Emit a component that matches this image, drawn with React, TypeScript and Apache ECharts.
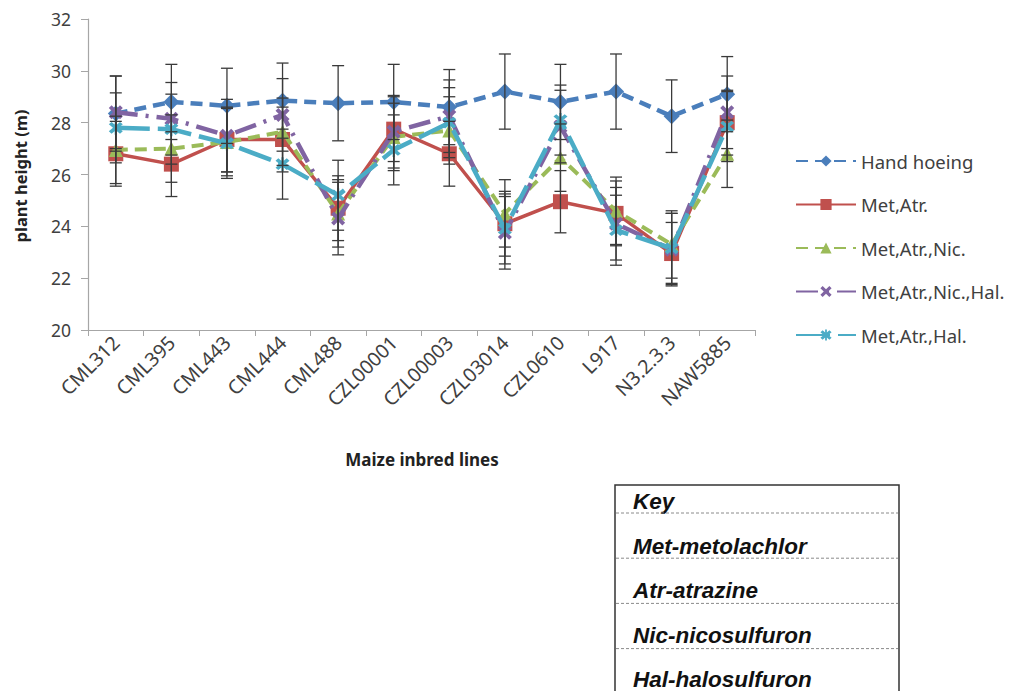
import React, { useEffect, useRef } from "react";
import * as echarts from "echarts";

// Maize inbred lines on the x axis
const categories = [
  "CML312", "CML395", "CML443", "CML444", "CML488", "CZL00001",
  "CZL00003", "CZL03014", "CZL0610", "L917", "N3.2.3.3", "NAW5885",
];

// Mean plant height per treatment
const handHoeing = [28.35, 28.8, 28.65, 28.85, 28.75, 28.8, 28.6, 29.2, 28.8, 29.2, 28.25, 29.1];
const metAtr = [26.8, 26.4, 27.35, 27.35, 24.7, 27.75, 26.8, 24.1, 24.95, 24.5, 22.95, 28.0];
const metAtrNic = [26.95, 27.0, 27.25, 27.65, 24.5, 27.45, 27.7, 24.5, 26.65, 24.6, 23.3, 26.8];
const metAtrNicHal = [28.4, 28.15, 27.5, 28.3, 24.3, 27.65, 28.25, 23.75, 27.85, 24.1, 23.1, 28.4];
const metAtrHal = [27.8, 27.75, 27.2, 26.4, 25.2, 26.95, 28.0, 23.9, 28.1, 23.85, 23.15, 27.85];

// Error bar half-widths
const handHoeingErr = [1.45, 1.45, 1.45, 1.45, 1.45, 1.45, 1.45, 1.45, 1.45, 1.45, 1.4, 1.45];
const metAtrErr = [1.25, 1.25, 1.25, 1.25, 1.25, 1.25, 1.25, 1.25, 1.2, 1.25, 1.2, 1.25];
const metAtrNicErr = [1.3, 1.3, 1.3, 1.3, 1.3, 1.3, 1.3, 1.3, 1.3, 1.3, 1.3, 1.3];
const metAtrNicHalErr = [1.4, 1.4, 1.4, 1.4, 1.4, 1.4, 1.4, 1.4, 1.4, 1.4, 1.4, 1.4];
const metAtrHalErr = [1.35, 1.35, 1.35, 1.35, 1.35, 1.35, 1.35, 1.35, 1.35, 1.35, 1.35, 1.35];

// Y axis ticks
const yMin = 20;
const yMax = 32;
const yStep = 2;

const keyRows = ["Key", "Met-metolachlor", "Atr-atrazine", "Nic-nicosulfuron", "Hal-halosulfuron"];

const FONT = "'Noto Sans', 'DejaVu Sans', sans-serif";
const KEY_FONT = "'Liberation Sans', Arial, sans-serif";

const X_SYMBOL = "path://M0,2 L2,0 L5,3 L8,0 L10,2 L7,5 L10,8 L8,10 L5,7 L2,10 L0,8 L3,5 Z";
const STAR_SYMBOL =
  "path://M0,2 L2,0 L5,3 L8,0 L10,2 L7,5 L10,8 L8,10 L5,7 L2,10 L0,8 L3,5 Z M4.2,-1 L5.8,-1 L5.8,11 L4.2,11 Z";

type SeriesDef = {
  name: string;
  values: number[];
  errors: number[];
  color: string;
  dash: any;
  width: number;
  symbol: string;
  symbolSize: number;
};

const seriesDefs: SeriesDef[] = [
  { name: "Hand hoeing", values: handHoeing, errors: handHoeingErr, color: "#4A7EBB", dash: [12, 7], width: 4.5, symbol: "diamond", symbolSize: 16 },
  { name: "Met,Atr.", values: metAtr, errors: metAtrErr, color: "#C0504D", dash: "solid", width: 3.5, symbol: "rect", symbolSize: 15 },
  { name: "Met,Atr.,Nic.", values: metAtrNic, errors: metAtrNicErr, color: "#9BBB59", dash: [12, 7], width: 4, symbol: "triangle", symbolSize: 14 },
  { name: "Met,Atr.,Nic.,Hal.", values: metAtrNicHal, errors: metAtrNicHalErr, color: "#8064A2", dash: [22, 8, 3, 8], width: 4.5, symbol: X_SYMBOL, symbolSize: 14 },
  { name: "Met,Atr.,Hal.", values: metAtrHal, errors: metAtrHalErr, color: "#4BACC6", dash: [34, 8], width: 4.5, symbol: STAR_SYMBOL, symbolSize: 14 },
];

function errorBarRenderer(params: any, api: any) {
  const i = api.value(0);
  const lo = api.coord([i, api.value(1)]);
  const hi = api.coord([i, api.value(2)]);
  const cap = 6;
  const style = { stroke: "#3A3A3A", lineWidth: 1.3 };
  return {
    type: "group",
    children: [
      { type: "line", shape: { x1: lo[0], y1: lo[1], x2: hi[0], y2: hi[1] }, style },
      { type: "line", shape: { x1: hi[0] - cap, y1: hi[1], x2: hi[0] + cap, y2: hi[1] }, style },
      { type: "line", shape: { x1: lo[0] - cap, y1: lo[1], x2: lo[0] + cap, y2: lo[1] }, style },
    ],
  };
}

export default function App() {
  const ref = useRef<HTMLDivElement>(null);

  useEffect(() => {
    if (!ref.current) return;
    const chart = echarts.init(ref.current, undefined, { renderer: "svg" });

    const lineSeries = seriesDefs.map((s, k) => ({
      name: s.name,
      type: "line",
      data: s.values,
      z: 3 + k,
      symbol: s.symbol,
      symbolSize: s.symbolSize,
      lineStyle: { color: s.color, width: s.width, type: s.dash },
      itemStyle: { color: s.color, borderColor: s.color, borderWidth: 0 },
    }));

    const errorSeries = seriesDefs.map((s, k) => ({
      name: s.name + " error",
      type: "custom",
      renderItem: errorBarRenderer,
      data: s.values.map((v, i) => [i, v - s.errors[i], v + s.errors[i]]),
      encode: { x: 0, y: [1, 2] },
      z: 10 + k,
      silent: true,
    }));

    // Key box below the plot: rows separated by dashed rules
    const keyTop = 485;
    const rowH = 44.5;
    const keyGraphics: any[] = [
      {
        type: "rect",
        shape: { x: 615, y: keyTop, width: 284, height: 240 },
        style: { fill: "#fff", stroke: "#333", lineWidth: 1.5 },
      },
    ];
    keyRows.forEach((t, i) => {
      keyGraphics.push({
        type: "text",
        x: 633,
        y: keyTop + 16.5 + i * rowH,
        style: {
          text: t,
          font: `italic bold 22.5px ${KEY_FONT}`,
          fill: "#111",
          textVerticalAlign: "middle",
        },
      });
      if (i < keyRows.length - 1) {
        keyGraphics.push({
          type: "line",
          shape: { x1: 616, y1: keyTop + 28 + i * 45.2, x2: 898, y2: keyTop + 28 + i * 45.2 },
          style: { stroke: "#8A8A8A", lineWidth: 1, lineDash: [3, 2] },
        });
      }
    });

    chart.setOption({
      animation: false,
      backgroundColor: "#fff",
      grid: { left: 88, top: 19, right: 272, bottom: 361, containLabel: false },
      xAxis: {
        type: "category",
        data: categories,
        boundaryGap: true,
        axisLine: { lineStyle: { color: "#A6A6A6", width: 1.2 } },
        axisTick: { show: true, length: 6, alignWithLabel: false, lineStyle: { color: "#A6A6A6" } },
        axisLabel: {
          interval: 0,
          rotate: 45,
          margin: 9,
          fontSize: 19.5,
          color: "#404040",
          fontFamily: FONT,
        },
      },
      yAxis: {
        type: "value",
        min: yMin,
        max: yMax,
        interval: yStep,
        axisLine: { show: true, lineStyle: { color: "#A6A6A6", width: 1.2 } },
        axisTick: { show: true, length: 7, lineStyle: { color: "#A6A6A6" } },
        splitLine: { show: false },
        axisLabel: { fontSize: 17.5, color: "#404040", fontFamily: FONT, margin: 17 },
      },
      legend: {
        data: seriesDefs.map((s) => s.name),
        orient: "vertical",
        left: 790,
        top: 146,
        itemWidth: 60,
        itemHeight: 14,
        itemGap: 23.5,
        textStyle: { fontSize: 18.5, color: "#404040", fontFamily: FONT, lineHeight: 20 },
        selectedMode: false,
      },
      graphic: [
        {
          type: "text",
          x: 20,
          y: 176,
          rotation: Math.PI / 2,
          style: {
            text: "plant height (m)",
            font: `bold 16.5px ${FONT}`,
            fill: "#222",
            textAlign: "center",
            textVerticalAlign: "middle",
          },
        },
        {
          type: "text",
          x: 422,
          y: 459,
          style: {
            text: "Maize inbred lines",
            font: `bold 17px ${FONT}`,
            fill: "#222",
            textAlign: "center",
            textVerticalAlign: "middle",
          },
        },
        ...keyGraphics,
      ],
      series: [...lineSeries, ...errorSeries],
    });

    return () => chart.dispose();
  }, []);

  return (
    <div
      ref={ref}
      style={{ position: "fixed", left: 0, top: 0, width: 1027, height: 691, background: "#fff" }}
    />
  );
}
